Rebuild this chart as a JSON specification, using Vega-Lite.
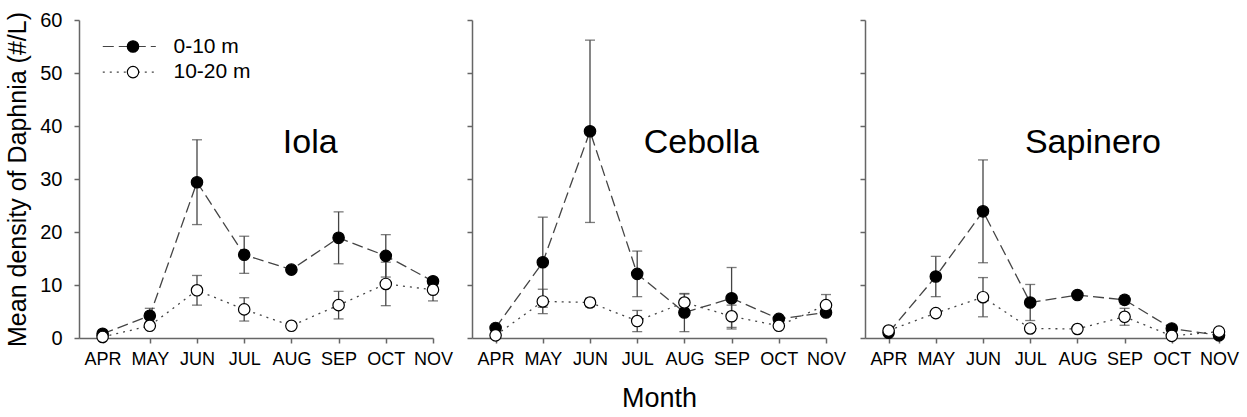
{
  "$schema": "https://vega.github.io/schema/vega-lite/v6.json",
  "background": "white",
  "padding": {"left": 5, "top": 10, "right": 5, "bottom": 5},
  "autosize": {"type": "pad"},
  "datasets": {
    "daphnia": [
      {"lake": "Iola", "depth": "0-10 m", "month": 4, "density": 0.8, "se": 0},
      {"lake": "Iola", "depth": "0-10 m", "month": 5, "density": 4.2, "se": 1.4},
      {"lake": "Iola", "depth": "0-10 m", "month": 6, "density": 29.4, "se": 8.0},
      {"lake": "Iola", "depth": "0-10 m", "month": 7, "density": 15.7, "se": 3.5},
      {"lake": "Iola", "depth": "0-10 m", "month": 8, "density": 12.9, "se": 0},
      {"lake": "Iola", "depth": "0-10 m", "month": 9, "density": 18.9, "se": 4.9},
      {"lake": "Iola", "depth": "0-10 m", "month": 10, "density": 15.5, "se": 4.0},
      {"lake": "Iola", "depth": "0-10 m", "month": 11, "density": 10.7, "se": 0.5},
      {"lake": "Iola", "depth": "10-20 m", "month": 4, "density": 0.2, "se": 0},
      {"lake": "Iola", "depth": "10-20 m", "month": 5, "density": 2.3, "se": 0.5},
      {"lake": "Iola", "depth": "10-20 m", "month": 6, "density": 9.0, "se": 2.8},
      {"lake": "Iola", "depth": "10-20 m", "month": 7, "density": 5.4, "se": 2.2},
      {"lake": "Iola", "depth": "10-20 m", "month": 8, "density": 2.3, "se": 0},
      {"lake": "Iola", "depth": "10-20 m", "month": 9, "density": 6.2, "se": 2.6},
      {"lake": "Iola", "depth": "10-20 m", "month": 10, "density": 10.2, "se": 4.1},
      {"lake": "Iola", "depth": "10-20 m", "month": 11, "density": 9.1, "se": 2.1},
      {"lake": "Cebolla", "depth": "0-10 m", "month": 4, "density": 1.9, "se": 0},
      {"lake": "Cebolla", "depth": "0-10 m", "month": 5, "density": 14.3, "se": 8.5},
      {"lake": "Cebolla", "depth": "0-10 m", "month": 6, "density": 39.0, "se": 17.2},
      {"lake": "Cebolla", "depth": "0-10 m", "month": 7, "density": 12.1, "se": 4.3},
      {"lake": "Cebolla", "depth": "0-10 m", "month": 8, "density": 4.8, "se": 3.6},
      {"lake": "Cebolla", "depth": "0-10 m", "month": 9, "density": 7.5, "se": 5.8},
      {"lake": "Cebolla", "depth": "0-10 m", "month": 10, "density": 3.6, "se": 0},
      {"lake": "Cebolla", "depth": "0-10 m", "month": 11, "density": 4.8, "se": 0},
      {"lake": "Cebolla", "depth": "10-20 m", "month": 4, "density": 0.5, "se": 0},
      {"lake": "Cebolla", "depth": "10-20 m", "month": 5, "density": 6.9, "se": 2.3},
      {"lake": "Cebolla", "depth": "10-20 m", "month": 6, "density": 6.7, "se": 0.8},
      {"lake": "Cebolla", "depth": "10-20 m", "month": 7, "density": 3.2, "se": 2.0},
      {"lake": "Cebolla", "depth": "10-20 m", "month": 8, "density": 6.7, "se": 1.6},
      {"lake": "Cebolla", "depth": "10-20 m", "month": 9, "density": 4.1, "se": 2.1},
      {"lake": "Cebolla", "depth": "10-20 m", "month": 10, "density": 2.3, "se": 0},
      {"lake": "Cebolla", "depth": "10-20 m", "month": 11, "density": 6.2, "se": 2.0},
      {"lake": "Sapinero", "depth": "0-10 m", "month": 4, "density": 1.0, "se": 0},
      {"lake": "Sapinero", "depth": "0-10 m", "month": 5, "density": 11.6, "se": 3.8},
      {"lake": "Sapinero", "depth": "0-10 m", "month": 6, "density": 23.9, "se": 9.7},
      {"lake": "Sapinero", "depth": "0-10 m", "month": 7, "density": 6.7, "se": 3.4},
      {"lake": "Sapinero", "depth": "0-10 m", "month": 8, "density": 8.1, "se": 0},
      {"lake": "Sapinero", "depth": "0-10 m", "month": 9, "density": 7.2, "se": 0.8},
      {"lake": "Sapinero", "depth": "0-10 m", "month": 10, "density": 1.8, "se": 0},
      {"lake": "Sapinero", "depth": "0-10 m", "month": 11, "density": 0.5, "se": 0},
      {"lake": "Sapinero", "depth": "10-20 m", "month": 4, "density": 1.4, "se": 0},
      {"lake": "Sapinero", "depth": "10-20 m", "month": 5, "density": 4.7, "se": 0},
      {"lake": "Sapinero", "depth": "10-20 m", "month": 6, "density": 7.7, "se": 3.7},
      {"lake": "Sapinero", "depth": "10-20 m", "month": 7, "density": 1.8, "se": 0},
      {"lake": "Sapinero", "depth": "10-20 m", "month": 8, "density": 1.7, "se": 0},
      {"lake": "Sapinero", "depth": "10-20 m", "month": 9, "density": 4.0, "se": 1.6},
      {"lake": "Sapinero", "depth": "10-20 m", "month": 10, "density": 0.4, "se": 0},
      {"lake": "Sapinero", "depth": "10-20 m", "month": 11, "density": 1.2, "se": 0}
    ]
  },
  "data": {"name": "daphnia"},
  "bounds": "flush",
  "spacing": 39,
  "config": {
    "font": "Liberation Sans",
    "view": {"stroke": null},
    "axis": {
      "grid": false,
      "domainColor": "#666",
      "domainWidth": 1.5,
      "tickColor": "#666",
      "tickWidth": 1.5,
      "tickSize": 5,
      "labelColor": "black",
      "labelFont": "Liberation Sans",
      "labelOverlap": false,
      "titleFont": "Liberation Sans",
      "titleFontWeight": "normal",
      "titleColor": "black"
    },
    "axisX": {"labelFontSize": 18, "labelPadding": 7, "labelFlush": false, "titleFontSize": 27, "titlePadding": 17, "tickCount": 8},
    "axisY": {"labelFontSize": 20, "labelPadding": 12, "labelSeparation": -10, "labelBound": false, "titleFontSize": 25, "titlePadding": 9, "tickCount": 12},
    "legend": {"padding": 0, "title": null, "labelFontSize": 21, "labelColor": "black", "rowPadding": 3.6, "labelOffset": 30, "symbolSize": 130, "symbolStrokeWidth": 1.2}
  },
  "hconcat": [
    {
      "width": 354,
      "height": 318,
      "transform": [{"filter": "datum.lake === 'Iola'"}],
      "layer": [
        {
          "mark": {"type": "line", "color": "#444", "strokeWidth": 1.3},
          "encoding": {
            "x": {"field": "month", "type": "quantitative", "title": null, "scale": {"domain": [3.5, 11], "nice": false, "zero": false},
              "axis": {"values": [4, 5, 6, 7, 8, 9, 10, 11], "tickCount": 8, "labelExpr": "['JAN','FEB','MAR','APR','MAY','JUN','JUL','AUG','SEP','OCT','NOV','DEC'][datum.value - 1]", "labelOverlap": false}},
            "y": {"field": "density", "type": "quantitative", "title": "Mean density of Daphnia (#/L)", "scale": {"domain": [0, 60], "nice": false},
              "axis": {"values": [0, 5, 10, 15, 20, 25, 30, 35, 40, 45, 50, 55, 60], "tickCount": 12, "labelOverlap": false, "labelSeparation": -10}},
            "strokeDash": {"field": "depth", "type": "nominal", "scale": {"range": [[11, 5], [2, 5]]},
              "legend": {"orient": "none", "legendX": 43.5, "legendY": 16, "symbolType": "M-5.3,0H4", "symbolStrokeColor": "#444"}}
          }
        },
        {
          "transform": [{"filter": "datum.se > 0"}],
          "mark": {"type": "errorbar", "ticks": {"size": 10}, "color": "#444", "thickness": 1.3},
          "encoding": {
            "x": {"field": "month", "type": "quantitative", "title": null},
            "y": {"field": "density", "type": "quantitative", "title": "Mean density of Daphnia (#/L)",
              "axis": {"values": [0, 5, 10, 15, 20, 25, 30, 35, 40, 45, 50, 55, 60], "tickCount": 12, "labelOverlap": false, "labelSeparation": -10}},
            "yError": {"field": "se"}
          }
        },
        {
          "mark": {"type": "point", "shape": "circle", "size": 130, "filled": true, "stroke": "black", "strokeWidth": 1.2, "opacity": 1},
          "encoding": {
            "x": {"field": "month", "type": "quantitative", "title": null},
            "y": {"field": "density", "type": "quantitative", "title": "Mean density of Daphnia (#/L)",
              "axis": {"values": [0, 5, 10, 15, 20, 25, 30, 35, 40, 45, 50, 55, 60], "tickCount": 12, "labelOverlap": false, "labelSeparation": -10}},
            "fill": {"field": "depth", "type": "nominal", "scale": {"domain": ["0-10 m", "10-20 m"], "range": ["black", "white"]},
              "legend": {"orient": "none", "legendX": 43.5, "legendY": 16, "symbolType": "circle", "symbolStrokeColor": "black", "symbolOpacity": 1, "labelOpacity": 0}}
          }
        },
        {
          "transform": [{"filter": "datum.depth === '0-10 m' && datum.month === 4"}],
          "mark": {"type": "text", "fontSize": 34, "align": "center", "baseline": "alphabetic", "color": "black"},
          "encoding": {"x": {"datum": 8.4}, "y": {"datum": 35}, "text": {"field": "lake"}}
        }
      ]
    },
    {
      "width": 354,
      "height": 318,
      "transform": [{"filter": "datum.lake === 'Cebolla'"}],
      "layer": [
        {
          "mark": {"type": "line", "color": "#444", "strokeWidth": 1.3},
          "encoding": {
            "x": {"field": "month", "type": "quantitative", "title": "Month", "scale": {"domain": [3.5, 11], "nice": false, "zero": false},
              "axis": {"values": [4, 5, 6, 7, 8, 9, 10, 11], "tickCount": 8, "labelExpr": "['JAN','FEB','MAR','APR','MAY','JUN','JUL','AUG','SEP','OCT','NOV','DEC'][datum.value - 1]", "titleX": 187, "labelOverlap": false}},
            "y": {"field": "density", "type": "quantitative", "title": null, "scale": {"domain": [0, 60], "nice": false},
              "axis": {"values": [0, 5, 10, 15, 20, 25, 30, 35, 40, 45, 50, 55, 60], "tickCount": 12, "labels": false}},
            "strokeDash": {"field": "depth", "type": "nominal"}
          }
        },
        {
          "transform": [{"filter": "datum.se > 0"}],
          "mark": {"type": "errorbar", "ticks": {"size": 10}, "color": "#444", "thickness": 1.3},
          "encoding": {
            "x": {"field": "month", "type": "quantitative", "title": "Month"},
            "y": {"field": "density", "type": "quantitative", "title": null,
              "axis": {"values": [0, 5, 10, 15, 20, 25, 30, 35, 40, 45, 50, 55, 60], "tickCount": 12, "labels": false}},
            "yError": {"field": "se"}
          }
        },
        {
          "mark": {"type": "point", "shape": "circle", "size": 130, "filled": true, "stroke": "black", "strokeWidth": 1.2, "opacity": 1},
          "encoding": {
            "x": {"field": "month", "type": "quantitative", "title": "Month"},
            "y": {"field": "density", "type": "quantitative", "title": null,
              "axis": {"values": [0, 5, 10, 15, 20, 25, 30, 35, 40, 45, 50, 55, 60], "tickCount": 12, "labels": false}},
            "fill": {"field": "depth", "type": "nominal"}
          }
        },
        {
          "transform": [{"filter": "datum.depth === '0-10 m' && datum.month === 4"}],
          "mark": {"type": "text", "fontSize": 34, "align": "center", "baseline": "alphabetic", "color": "black"},
          "encoding": {"x": {"datum": 8.36}, "y": {"datum": 35}, "text": {"field": "lake"}}
        }
      ]
    },
    {
      "width": 354,
      "height": 318,
      "transform": [{"filter": "datum.lake === 'Sapinero'"}],
      "layer": [
        {
          "mark": {"type": "line", "color": "#444", "strokeWidth": 1.3},
          "encoding": {
            "x": {"field": "month", "type": "quantitative", "title": null, "scale": {"domain": [3.5, 11], "nice": false, "zero": false},
              "axis": {"values": [4, 5, 6, 7, 8, 9, 10, 11], "tickCount": 8, "labelExpr": "['JAN','FEB','MAR','APR','MAY','JUN','JUL','AUG','SEP','OCT','NOV','DEC'][datum.value - 1]", "labelOverlap": false}},
            "y": {"field": "density", "type": "quantitative", "title": null, "scale": {"domain": [0, 60], "nice": false},
              "axis": {"values": [0, 5, 10, 15, 20, 25, 30, 35, 40, 45, 50, 55, 60], "tickCount": 12, "labels": false}},
            "strokeDash": {"field": "depth", "type": "nominal"}
          }
        },
        {
          "transform": [{"filter": "datum.se > 0"}],
          "mark": {"type": "errorbar", "ticks": {"size": 10}, "color": "#444", "thickness": 1.3},
          "encoding": {
            "x": {"field": "month", "type": "quantitative", "title": null},
            "y": {"field": "density", "type": "quantitative", "title": null,
              "axis": {"values": [0, 5, 10, 15, 20, 25, 30, 35, 40, 45, 50, 55, 60], "tickCount": 12, "labels": false}},
            "yError": {"field": "se"}
          }
        },
        {
          "mark": {"type": "point", "shape": "circle", "size": 130, "filled": true, "stroke": "black", "strokeWidth": 1.2, "opacity": 1},
          "encoding": {
            "x": {"field": "month", "type": "quantitative", "title": null},
            "y": {"field": "density", "type": "quantitative", "title": null,
              "axis": {"values": [0, 5, 10, 15, 20, 25, 30, 35, 40, 45, 50, 55, 60], "tickCount": 12, "labels": false}},
            "fill": {"field": "depth", "type": "nominal"}
          }
        },
        {
          "transform": [{"filter": "datum.depth === '0-10 m' && datum.month === 4"}],
          "mark": {"type": "text", "fontSize": 34, "align": "center", "baseline": "alphabetic", "color": "black"},
          "encoding": {"x": {"datum": 8.33}, "y": {"datum": 35}, "text": {"field": "lake"}}
        }
      ]
    }
  ]
}
